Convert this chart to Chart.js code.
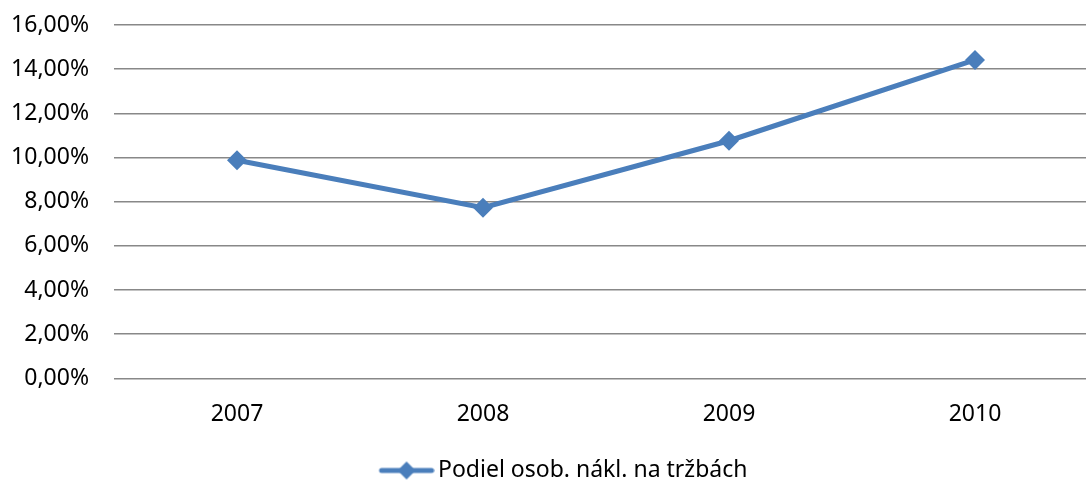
<!DOCTYPE html>
<html lang="sk">
<head>
    <meta charset="UTF-8">
    <title>Podiel osob. nákl. na tržbách</title>
    <script src="https://cdn.jsdelivr.net/npm/chart.js"></script>
    <style>
        html, body {
            margin: 0;
            padding: 0;
            background: #ffffff;
            overflow: hidden;
        }
        #wrap {
            width: 1120px;
            height: 480px;
        }
    </style>
</head>
<body>
    <div id="wrap">
        <canvas id="lineChart" width="1120" height="480"></canvas>
    </div>

    <script>
        // Dáta grafu
        const years = ['2007', '2008', '2009', '2010'];
        const podielValues = [9.88, 7.73, 10.76, 14.42];
        const seriesName = 'Podiel osob. nákl. na tržbách';

        const blue = '#4a7ebb';
        const fontFamily = '"Noto Sans", "Open Sans", sans-serif';
        const fontSize = 23;

        // Obrázok do legendy: čiara s kosoštvorcom (vľavo priehľadný okraj, aby legenda sedela)
        const legendIcon = document.createElement('canvas');
        legendIcon.width = 88;
        legendIcon.height = 20;
        const ic = legendIcon.getContext('2d');
        ic.strokeStyle = blue;
        ic.lineWidth = 5;
        ic.lineCap = 'round';
        ic.beginPath();
        ic.moveTo(35, 10);
        ic.lineTo(85, 10);
        ic.stroke();
        ic.fillStyle = blue;
        ic.beginPath();
        ic.moveTo(60, 1);
        ic.lineTo(69, 10);
        ic.lineTo(60, 19);
        ic.lineTo(51, 10);
        ic.closePath();
        ic.fill();

        const ctx = document.getElementById('lineChart').getContext('2d');
        const chart = new Chart(ctx, {
            type: 'line',
            data: {
                labels: years,
                datasets: [{
                    label: seriesName,
                    data: podielValues,
                    borderColor: blue,
                    backgroundColor: blue,
                    borderWidth: 5,
                    pointStyle: 'rectRot',
                    pointRadius: 10,
                    pointHoverRadius: 10,
                    pointBackgroundColor: blue,
                    pointBorderColor: blue,
                    pointBorderWidth: 0,
                    tension: 0
                }]
            },
            options: {
                responsive: false,
                animation: false,
                layout: {
                    padding: { left: 4, right: 22, top: 0, bottom: -12 }
                },
                plugins: {
                    tooltip: { enabled: false },
                    legend: {
                        position: 'bottom',
                        labels: {
                            usePointStyle: true,
                            pointStyle: legendIcon,
                            pointStyleWidth: 72,
                            boxWidth: 72,
                            padding: 0,
                            color: '#000000',
                            font: { family: fontFamily, size: fontSize },
                            generateLabels: function (c) {
                                return [{
                                    text: seriesName,
                                    pointStyle: legendIcon,
                                    fillStyle: blue,
                                    strokeStyle: blue,
                                    lineWidth: 0,
                                    datasetIndex: 0
                                }];
                            }
                        }
                    }
                },
                scales: {
                    x: {
                        offset: true,
                        afterFit: function (scale) { scale.height += 9; },
                        grid: { display: false, drawTicks: false },
                        border: { display: false },
                        ticks: {
                            color: '#000000',
                            padding: 22,
                            font: { family: fontFamily, size: fontSize }
                        }
                    },
                    y: {
                        min: 0,
                        max: 16,
                        afterFit: function (scale) {
                            scale.width = 110;
                            scale.paddingTop = 25;
                        },
                        grid: {
                            color: '#888888',
                            lineWidth: 1.6,
                            drawTicks: false
                        },
                        border: { display: false },
                        ticks: {
                            stepSize: 2,
                            color: '#000000',
                            padding: 25,
                            font: { family: fontFamily, size: fontSize },
                            callback: function (v) {
                                return v.toFixed(2).replace('.', ',') + '%';
                            }
                        }
                    }
                }
            }
        });
    </script>
</body>
</html>
